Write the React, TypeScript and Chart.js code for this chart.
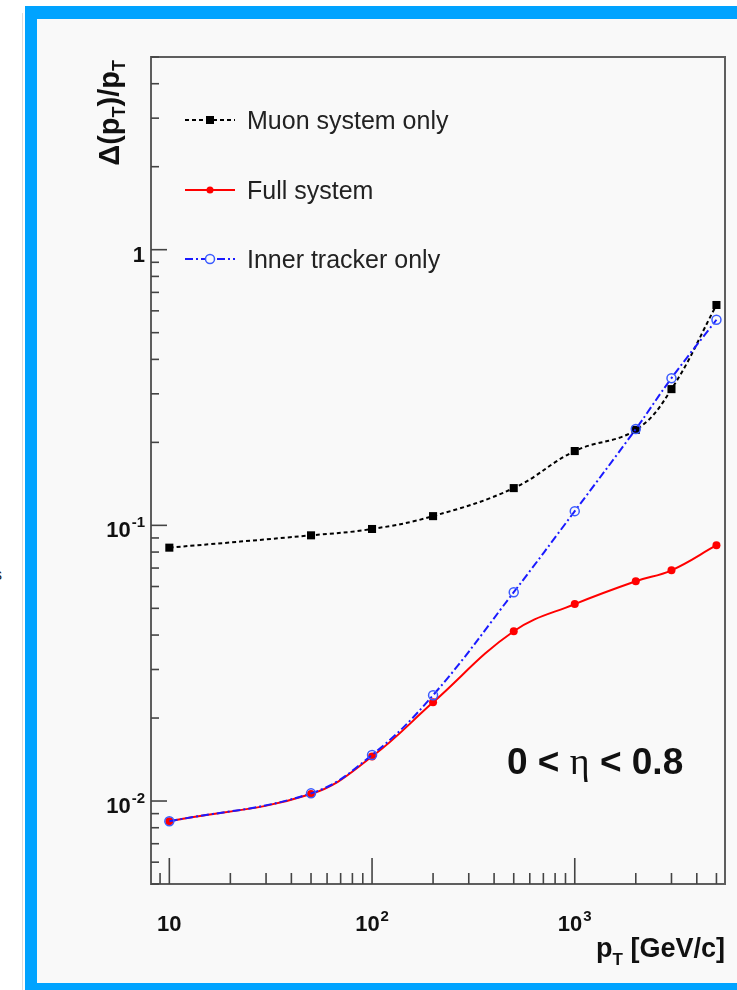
import React, { useEffect, useRef } from "react";
import { Chart, registerables } from "chart.js";

Chart.register(...registerables);

// ---- data ----
const pT = [10, 50, 100, 200, 500, 1000, 2000, 3000, 5000];
const muonOnly = [0.083, 0.092, 0.097, 0.108, 0.1365, 0.186, 0.222, 0.312, 0.63];
const fullSystem = [0.00844, 0.0106, 0.0145, 0.0228, 0.0413, 0.0518, 0.0627, 0.0687, 0.0847];
const innerTracker = [0.00844, 0.01066, 0.0147, 0.0242, 0.0572, 0.1126, 0.2235, 0.342, 0.557];
const seriesLabels = ["Muon system only", "Full system", "Inner tracker only"];
const xTickValues = [10, 100, 1000];
const xTickLabels = ["10", "10^2", "10^3"];
const yTickValues = [0.01, 0.1, 1];
const yTickLabels = ["10^-2", "10^-1", "1"];
const xAxisRange = [8.12, 5510];
const yAxisRange = [0.005, 5];
const xTitleMain = "p";
const xTitleSub = "T";
const xTitleRest = " [GeV/c]";
const regionText = ["0 < ", "\u03b7", " < 0.8"];

const SANS = '"Liberation Sans", Arial, Helvetica, sans-serif';

function drawSupLabel(ctx: CanvasRenderingContext2D, label: string, x: number, y: number, align: "center" | "right") {
  const parts = label.split("^");
  const base = parts[0];
  const sup = parts[1];
  ctx.font = `bold 22px ${SANS}`;
  const wb = ctx.measureText(base).width;
  let ws = 0;
  if (sup) {
    ctx.font = `bold 15px ${SANS}`;
    ws = ctx.measureText(sup).width + 1;
  }
  const total = wb + ws;
  const x0 = align === "center" ? x - total / 2 : x - total;
  ctx.textAlign = "left";
  ctx.textBaseline = "alphabetic";
  ctx.fillStyle = "#111";
  ctx.font = `bold 22px ${SANS}`;
  ctx.fillText(base, x0, y);
  if (sup) {
    ctx.font = `bold 15px ${SANS}`;
    ctx.fillText(sup, x0 + wb + 1, y - 10);
  }
}

const decoPlugin = {
  id: "deco",
  afterDatasetsDraw(chart: any) {
    const ctx: CanvasRenderingContext2D = chart.ctx;
    const { left, right, top, bottom } = chart.chartArea;
    const xs = chart.scales.x;
    const ys = chart.scales.y;
    ctx.save();
    // frame
    ctx.strokeStyle = "#5e5e5e";
    ctx.lineWidth = 2;
    ctx.strokeRect(left, top, right - left, bottom - top);
    // x ticks
    ctx.strokeStyle = "#444";
    ctx.lineWidth = 1.6;
    for (let d = 0; d <= 4; d++) {
      for (let m = 1; m <= 9; m++) {
        const v = m * Math.pow(10, d);
        if (v < xAxisRange[0] || v > xAxisRange[1]) continue;
        const px = xs.getPixelForValue(v);
        const len = m === 1 ? 26 : 11;
        ctx.beginPath();
        ctx.moveTo(px, bottom);
        ctx.lineTo(px, bottom - len);
        ctx.stroke();
      }
    }
    // y ticks
    for (let d = -3; d <= 0; d++) {
      for (let m = 1; m <= 9; m++) {
        const v = m * Math.pow(10, d);
        if (v < yAxisRange[0] * 0.999 || v > yAxisRange[1] * 1.001) continue;
        const py = ys.getPixelForValue(v);
        const len = m === 1 ? 16 : 8;
        ctx.beginPath();
        ctx.moveTo(left, py);
        ctx.lineTo(left + len, py);
        ctx.stroke();
      }
    }
    // tick labels
    xTickValues.forEach((v, i) => {
      drawSupLabel(ctx, xTickLabels[i], xs.getPixelForValue(v), 931, "center");
    });
    yTickValues.forEach((v, i) => {
      drawSupLabel(ctx, yTickLabels[i], 145, ys.getPixelForValue(v) + 12, "right");
    });
    // x title
    ctx.fillStyle = "#111";
    ctx.textAlign = "left";
    ctx.font = `bold 27px ${SANS}`;
    const wRest = ctx.measureText(xTitleRest).width;
    const wP = ctx.measureText(xTitleMain).width;
    ctx.font = `bold 17px ${SANS}`;
    const wT = ctx.measureText(xTitleSub).width;
    let tx = right - wRest - wT - wP;
    ctx.font = `bold 27px ${SANS}`;
    ctx.fillText(xTitleMain, tx, 957);
    ctx.font = `bold 17px ${SANS}`;
    ctx.fillText(xTitleSub, tx + wP, 965);
    ctx.font = `bold 27px ${SANS}`;
    ctx.fillText(xTitleRest, tx + wP + wT, 957);

    // y title (rotated)
    const pieces: [string, number, number][] = [
      ["\u0394(p", 29, 0],
      ["T", 18, 6],
      [")/p", 29, 0],
      ["T", 18, 6],
    ];
    let total = 0;
    pieces.forEach(([t, s]) => {
      ctx.font = `bold ${s}px ${SANS}`;
      total += ctx.measureText(t).width;
    });
    ctx.save();
    ctx.translate(119, 60 + total);
    ctx.rotate(-Math.PI / 2);
    let cx = 0;
    pieces.forEach(([t, s, dy]) => {
      ctx.font = `bold ${s}px ${SANS}`;
      ctx.fillText(t, cx, dy);
      cx += ctx.measureText(t).width;
    });
    ctx.restore();

    // region text
    let rx = 507;
    const ry = 774;
    ctx.fillStyle = "#111";
    ctx.font = `bold 37px ${SANS}`;
    ctx.fillText(regionText[0], rx, ry);
    rx += ctx.measureText(regionText[0]).width;
    ctx.font = `38px "Liberation Serif", "DejaVu Serif", serif`;
    ctx.fillText(regionText[1], rx, ry);
    rx += ctx.measureText(regionText[1]).width;
    ctx.font = `bold 37px ${SANS}`;
    ctx.fillText(regionText[2], rx, ry);

    // legend
    const legendY = [120, 190, 259];
    chart.data.datasets.forEach((ds: any, i: number) => {
      const y = legendY[i];
      ctx.save();
      ctx.strokeStyle = ds.borderColor;
      ctx.lineWidth = ds.borderWidth;
      ctx.setLineDash(ds.borderDash || []);
      ctx.beginPath();
      ctx.moveTo(185, y);
      ctx.lineTo(235, y);
      ctx.stroke();
      ctx.setLineDash([]);
      const mx = 210;
      if (ds.pointStyle === "rect") {
        ctx.fillStyle = ds.pointBackgroundColor;
        ctx.fillRect(mx - 4, y - 4, 8, 8);
      } else {
        ctx.beginPath();
        ctx.arc(mx, y, ds.legendRadius, 0, Math.PI * 2);
        if (ds.pointBackgroundColor !== "rgba(0,0,0,0)") {
          ctx.fillStyle = ds.pointBackgroundColor;
          ctx.fill();
        } else {
          ctx.fillStyle = "#f9f9f9";
          ctx.fill();
          ctx.strokeStyle = ds.pointBorderColor;
          ctx.lineWidth = 1.5;
          ctx.stroke();
        }
      }
      ctx.restore();
      ctx.fillStyle = "#222";
      ctx.font = `25px ${SANS}`;
      ctx.textAlign = "left";
      ctx.fillText(ds.label, 247, y + 9);
    });
    ctx.restore();
  },
};

export default function App() {
  const ref = useRef<HTMLCanvasElement | null>(null);
  useEffect(() => {
    if (!ref.current) return;
    const toPts = (arr: number[]) => arr.map((v, i) => ({ x: pT[i], y: v }));
    const chart = new Chart(ref.current, {
      type: "line",
      data: {
        datasets: [
          {
            label: seriesLabels[0],
            data: toPts(muonOnly),
            borderColor: "#000000",
            borderWidth: 2,
            borderDash: [4, 3],
            pointStyle: "rect",
            pointRadius: 5.7,
            pointBackgroundColor: "#000000",
            pointBorderColor: "#000000",
            pointBorderWidth: 0,
            tension: 0.4,
            order: 2,
          } as any,
          {
            label: seriesLabels[1],
            data: toPts(fullSystem),
            borderColor: "#ff0000",
            borderWidth: 2,
            pointStyle: "circle",
            pointRadius: 4,
            legendRadius: 3.5,
            pointBackgroundColor: "#ff0000",
            pointBorderColor: "#ff0000",
            pointBorderWidth: 0,
            tension: 0.4,
            order: 1,
          } as any,
          {
            label: seriesLabels[2],
            data: toPts(innerTracker),
            borderColor: "#1a1aff",
            borderWidth: 2,
            borderDash: [8, 3, 2, 3],
            pointStyle: "circle",
            pointRadius: 4.5,
            legendRadius: 4.5,
            pointBackgroundColor: "rgba(0,0,0,0)",
            pointBorderColor: "#3b5bff",
            pointBorderWidth: 1.5,
            tension: 0.4,
            order: 0,
          } as any,
        ],
      },
      options: {
        animation: false,
        responsive: false,
        devicePixelRatio: 1,
        layout: { padding: { left: 151, top: 57, right: 12, bottom: 106 } },
        scales: {
          x: { type: "logarithmic", min: xAxisRange[0], max: xAxisRange[1], display: false },
          y: { type: "logarithmic", min: yAxisRange[0], max: yAxisRange[1], display: false },
        },
        plugins: { legend: { display: false }, tooltip: { enabled: false } },
      },
      plugins: [decoPlugin],
    });
    return () => chart.destroy();
  }, []);

  return (
    <div style={{ position: "absolute", left: 0, top: 0, width: 737, height: 990, overflow: "hidden", background: "#ffffff" }}>
      <div style={{ position: "absolute", left: 22, top: 13, width: 1, height: 990, background: "#dcdcdc" }} />
      <div style={{ position: "absolute", left: 25, top: 6, width: 800, height: 1000, background: "#00a3ff" }} />
      <div style={{ position: "absolute", left: 37, top: 19, width: 800, height: 964, background: "#f9f9f9" }} />
      <span style={{ position: "absolute", left: -6, top: 566, font: `16px ${SANS}`, color: "#222" }}>s</span>
      <canvas ref={ref} width={737} height={990} style={{ position: "absolute", left: 0, top: 0, width: 737, height: 990 }} />
    </div>
  );
}
